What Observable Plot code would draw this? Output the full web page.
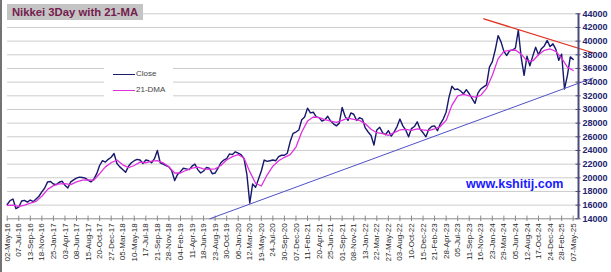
<!DOCTYPE html>
<html>
<head>
<meta charset="utf-8">
<script src="https://cdn.jsdelivr.net/npm/d3@7"></script>
<script src="https://cdn.jsdelivr.net/npm/@observablehq/plot@0.6"></script>
<style>
  html, body { margin: 0; padding: 0; background: #fff; }
  #wrap { position: relative; width: 611px; height: 272px; overflow: hidden; font-family: "Liberation Sans", Arial, sans-serif; }
  #wrap svg { position: absolute; left: 0; top: 0; }
  .frame { position: absolute; left: 0; top: 0; width: 2px; height: 272px; background: #737373; }
  .title { position: absolute; left: 7px; top: 4px; width: 136px; height: 16px; background: #c4c4c4;
           color: #74204f; font-weight: bold; font-size: 11.3px; line-height: 16px; text-align: center; white-space: nowrap; }
  .legend { position: absolute; left: 104px; top: 59px; width: 69px; height: 44px; background: #fff; }
  .legend .item { position: absolute; left: 0; height: 10px; font-size: 8px; color: #444; line-height: 10px; white-space: nowrap; }
  .legend .sw { position: absolute; left: 9px; top: 5px; width: 22px; height: 0; border-top: 1.5px solid; }
  .legend .lab { position: absolute; left: 32px; top: 0; }
  .wm { position: absolute; left: 466px; top: 177px; font-size: 12.5px; font-weight: bold; color: #1a1aff; white-space: nowrap; }
</style>
</head>
<body>
<div id="wrap">
  <div class="frame"></div>
</div>
<script>
// x tick labels (one per category tick)
const xLabels = ["02-May-16","07-Jul-16","13-Sep-16","18-Nov-16","25-Jan-17","03-Apr-17","08-Jun-17","15-Aug-17","20-Oct-17","27-Dec-17",
  "05-Mar-18","10-May-18","17-Jul-18","21-Sep-18","28-Nov-18","04-Feb-19","11-Apr-19","18-Jun-19","23-Aug-19","30-Oct-19",
  "06-Jan-20","12-Mar-20","19-May-20","24-Jul-20","30-Sep-20","07-Dec-20","11-Feb-21","20-Apr-21","25-Jun-21","01-Sep-21",
  "08-Nov-21","13-Jan-22","22-Mar-22","27-May-22","03-Aug-22","10-Oct-22","15-Dec-22","21-Feb-23","28-Apr-23","05-Jul-23",
  "11-Sep-23","16-Nov-23","23-Jan-24","29-Mar-24","05-Jun-24","12-Aug-24","17-Oct-24","24-Dec-24","28-Feb-25","07-May-25"];

// y tick values
const yTicks = [14000,16000,18000,20000,22000,24000,26000,28000,30000,32000,34000,36000,38000,40000,42000,44000];

// Close, sampled every quarter of a tick interval
const closeStep = 0.25;
const closeValues = [
  16100,16650,16900,15500,15700,16600,16700,16450,16750,16500,16900,17300,
  17950,18500,19400,19450,19100,19000,19350,19500,18900,18500,19400,19700,
  19950,20100,20050,19950,19650,19400,19800,20600,21800,22500,22300,22700,
  23000,23550,22100,21600,21200,20800,21700,22200,22500,22700,22600,22100,
  22600,22500,22200,22800,24000,22200,22000,21800,21600,21000,19600,20500,
  20900,21400,21300,21200,21700,22000,21200,20700,21000,21500,21400,20600,
  20700,21400,22200,22600,22800,23500,23400,23800,23600,23400,22800,20500,
  16300,19100,18600,19800,21000,22600,22400,22500,22600,22500,23100,23300,
  23300,23600,25300,26500,26700,27000,28500,28900,30200,29500,29600,28900,
  28800,28300,28500,29000,28300,27900,27600,28000,30300,29000,28400,29500,
  29300,28400,28800,28600,27300,26700,26200,24800,27000,27400,26600,26300,
  26900,26100,26700,27500,28600,27600,27000,26000,27200,27500,28200,27100,
  26600,26000,27100,27500,27600,26900,27900,28600,29600,31800,33400,32900,
  33000,32700,32300,32900,32300,31600,30900,32400,33000,33300,33600,36200,
  37000,38700,40800,39900,38500,37900,38600,38700,39000,41600,37600,35000,
  37800,36400,37800,39100,38000,38900,39300,40100,39200,39600,38800,37200,
  38100,33000,35000,37700,37300
];

// 21-DMA, sampled every half tick interval
const dmaStep = 0.5;
const dmaValues = [
  15950,16000,15800,16000,16300,16550,17300,18300,18850,19100,19150,19000,
  19400,19650,19700,19650,20600,21600,22200,22600,21900,21500,21800,22300,
  22200,22450,22500,22200,21600,20700,20700,21100,21400,21550,21300,21250,
  21300,21800,22600,23100,23400,22900,20900,19200,18800,20400,21700,22500,
  23000,23400,24500,26700,28300,28900,28800,28500,28300,28100,28400,28750,
  28550,28400,27900,27100,26600,26450,26200,26600,27000,27100,26950,27150,
  27000,26900,27150,27500,28400,30600,32000,32200,32000,31800,32050,33100,
  35000,37400,38500,38650,38700,38100,37100,37100,38000,38650,38850,38500,
  37500,36200,35700
];

// trend lines (tick-index position, value)
const resistX = [41.26, 50.7];
const resistY = [43270, 38300];
const supportX = [17.54, 50.7];
const supportY = [14000, 34600];

const axisIdx = 49.46;

const close = closeValues.map((v, i) => ({t: i * closeStep, v}));
const dma = dmaValues.map((v, i) => ({t: i * dmaStep, v}));
const resist = resistX.map((t, i) => ({t, v: resistY[i]}));
const support = supportX.map((t, i) => ({t, v: supportY[i]}));

const chart = Plot.plot({
  width: 611,
  height: 272,
  marginLeft: 6.7,
  marginRight: 33,
  marginTop: 13.3,
  marginBottom: 53.7,
  x: {domain: [0, axisIdx], axis: null},
  y: {domain: [14000, 44000], axis: null},
  style: {background: "transparent", fontFamily: "'Liberation Sans', Arial, sans-serif", overflow: "visible"},
  marks: [
    Plot.ruleY(yTicks.filter(d => d > 14000), {x1: 0.03, x2: axisIdx, stroke: "#cccccc", strokeWidth: 1}),
    Plot.ruleY([14000], {x1: 0, x2: axisIdx, stroke: "#8a8a8a", strokeWidth: 1}),
    Plot.ruleX(xLabels.map((d, i) => i), {y1: 13600, y2: 14400, stroke: "#8a8a8a", strokeWidth: 1}),
    Plot.text(xLabels, {x: (d, i) => i, y: 14000, text: d => d, rotate: -90, textAnchor: "end", dy: 4.5, fontSize: 8, fill: "#2a2a2a"}),
    Plot.line(close, {x: "t", y: "v", stroke: "#17176b", strokeWidth: 1.4}),
    Plot.line(dma, {x: "t", y: "v", stroke: "#e030e0", strokeWidth: 1.3}),
    Plot.line(resist, {x: "t", y: "v", stroke: "#e0301e", strokeWidth: 1.3}),
    Plot.line(support, {x: "t", y: "v", stroke: "#5050c8", strokeWidth: 1}),
    Plot.ruleX([axisIdx], {y1: 14000, y2: 44000, stroke: "#4a4a7a", strokeWidth: 2}),
    Plot.ruleY(yTicks, {x1: axisIdx - 0.22, x2: axisIdx + 0.22, stroke: "#4a4a7a", strokeWidth: 1}),
    Plot.text(yTicks, {x: axisIdx, y: d => d, text: d => String(d), textAnchor: "start", dx: 4, fontSize: 9, fontWeight: "bold", fill: "#23236e"})
  ]
});

const wrap = document.getElementById("wrap");
wrap.appendChild(chart);

const title = document.createElement("div");
title.className = "title";
title.textContent = "Nikkei 3Day with 21-MA";
wrap.appendChild(title);

const legend = document.createElement("div");
legend.className = "legend";
legend.innerHTML =
  '<div class="item" style="top:10px"><span class="sw" style="border-color:#1e1e70"></span><span class="lab">Close</span></div>' +
  '<div class="item" style="top:26px"><span class="sw" style="border-color:#e030e0"></span><span class="lab">21-DMA</span></div>';
wrap.appendChild(legend);

const wm = document.createElement("div");
wm.className = "wm";
wm.textContent = "www.kshitij.com";
wrap.appendChild(wm);
</script>
</body>
</html>
